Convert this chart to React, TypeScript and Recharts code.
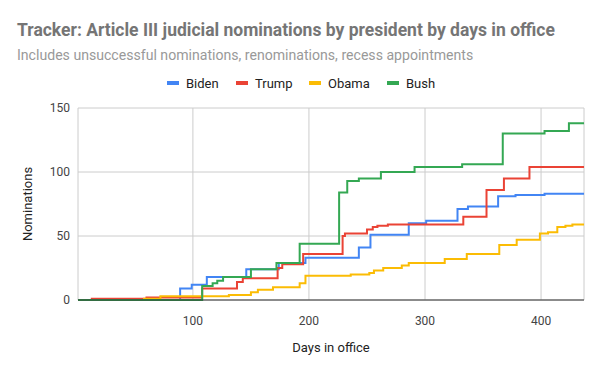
import React from 'react';
import { LineChart, Line, XAxis, YAxis, CartesianGrid, Label } from 'recharts';

const bidenDays = [1, 89, 99, 112, 146, 174, 197, 243, 253, 286, 301, 328, 337, 363, 378, 403, 437];
const bidenVals = [0, 9, 12, 18, 24, 29, 33, 41, 51, 60, 62, 71, 73, 81, 82, 83, 83];

const trumpDays = [12, 60, 108, 138, 143, 173, 177, 195, 229, 231, 250, 255, 259, 268, 333, 353, 368, 390, 437];
const trumpVals = [1, 2, 9, 14, 17, 25, 28, 36, 50, 52, 55, 57, 58, 59, 65, 86, 95, 104, 104];

const obamaDays = [57, 72, 131, 150, 156, 169, 192, 197, 236, 252, 256, 264, 280, 286, 317, 336, 364, 379, 399, 406, 414, 421, 427, 437];
const obamaVals = [1, 3, 4, 6, 8, 10, 13, 19, 20, 21, 23, 25, 27, 29, 32, 36, 43, 47, 52, 53, 57, 58, 59, 59];

const bushDays = [1, 108, 117, 121, 126, 150, 172, 192, 226, 233, 243, 262, 291, 332, 367, 403, 424, 437];
const bushVals = [0, 11, 13, 15, 18, 24, 29, 44, 84, 93, 95, 100, 104, 106, 130, 132, 138, 138];

const xTicks = [100, 200, 300, 400];
const yTicks = [0, 50, 100, 150];

const toPoints = (days: number[], vals: number[]) => days.map((d, i) => ({ x: d, y: vals[i] }));

const series = [
  { name: 'Biden', color: '#4285F4', data: toPoints(bidenDays, bidenVals) },
  { name: 'Trump', color: '#EA4335', data: toPoints(trumpDays, trumpVals) },
  { name: 'Obama', color: '#FBBC04', data: toPoints(obamaDays, obamaVals) },
  { name: 'Bush', color: '#34A853', data: toPoints(bushDays, bushVals) },
];

const legendX = [167, 236, 309, 387];

const font = 'Roboto, Arial, sans-serif';

export default function App() {
  return (
    <div style={{ position: 'absolute', left: 0, top: 0, width: 600, height: 371, background: '#fff', fontFamily: font }}>
      <div style={{ position: 'absolute', left: 17, top: 20, fontSize: 17.5, fontWeight: 'bold', color: '#757575', whiteSpace: 'nowrap' }}>
        Tracker: Article III judicial nominations by president by days in office
      </div>
      <div style={{ position: 'absolute', left: 17, top: 47, fontSize: 14.1, color: '#999999', whiteSpace: 'nowrap' }}>
        Includes unsuccessful nominations, renominations, recess appointments
      </div>
      {series.map((s, i) => (
        <div key={s.name} style={{ position: 'absolute', left: legendX[i], top: 75, height: 16, display: 'flex', alignItems: 'center', whiteSpace: 'nowrap' }}>
          <div style={{ width: 12, height: 4, background: s.color, marginRight: 7 }} />
          <span style={{ fontSize: 13, color: '#222' }}>{s.name}</span>
        </div>
      ))}
      <div style={{ position: 'absolute', left: 0, top: 0 }}>
        <LineChart width={600} height={371} margin={{ top: 108, right: 16, bottom: 41, left: 0 }}>
          <CartesianGrid stroke="#cccccc" strokeWidth={1} />
          <XAxis
            type="number"
            dataKey="x"
            domain={[1, 437]}
            ticks={xTicks}
            allowDataOverflow
            height={30}
            tickLine={false}
            tickMargin={10}
            axisLine={{ stroke: '#333333', strokeWidth: 1 }}
            tick={{ fill: '#444444', fontSize: 12, fontFamily: font }}
          >
            <Label value="Days in office" position="insideBottom" offset={-22} style={{ fill: '#222', fontSize: 13, fontFamily: font }} />
          </XAxis>
          <YAxis
            type="number"
            domain={[0, 150]}
            ticks={yTicks}
            width={78}
            tickLine={false}
            axisLine={false}
            tick={{ fill: '#444444', fontSize: 12, fontFamily: font }}
          >
            <Label value="Nominations" angle={-90} position="insideLeft" offset={27} style={{ fill: '#222', fontSize: 13, fontFamily: font, textAnchor: 'middle' }} />
          </YAxis>
          {series.map((s) => (
            <Line
              key={s.name}
              data={s.data}
              dataKey="y"
              name={s.name}
              type="stepAfter"
              stroke={s.color}
              strokeWidth={2}
              dot={false}
              isAnimationActive={false}
            />
          ))}
        </LineChart>
      </div>
    </div>
  );
}
